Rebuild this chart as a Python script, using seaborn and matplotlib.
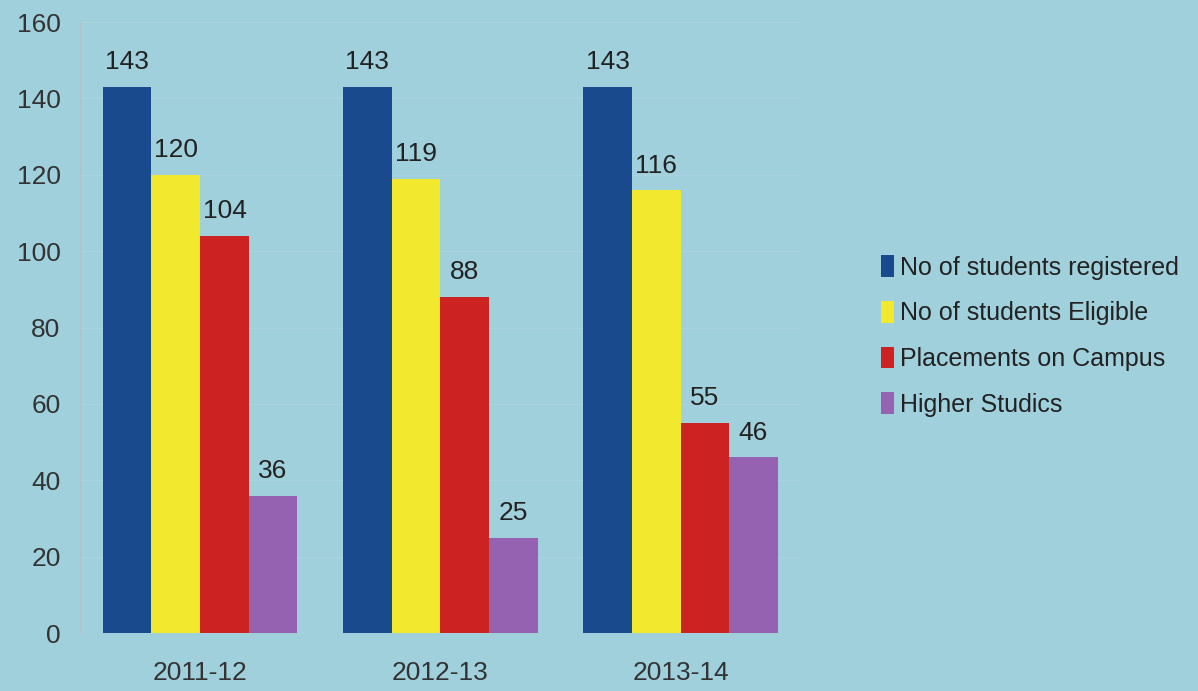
import matplotlib
matplotlib.use("Agg")
import matplotlib.pyplot as plt
import seaborn as sns
import pandas as pd

years = ["2011-12", "2012-13", "2013-14"]
series_names = ["No of students registered", "No of students Eligible",
                "Placements on Campus", "Higher Studics"]
registered = [143, 143, 143]
eligible = [120, 119, 116]
placements = [104, 88, 55]
higher = [36, 25, 46]
colors = ["#1A4A8E", "#F2E82E", "#CC2222", "#9462B0"]
yticks = [0, 20, 40, 60, 80, 100, 120, 140, 160]

rows = []
for name, vals in zip(series_names, [registered, eligible, placements, higher]):
    for y, v in zip(years, vals):
        rows.append({"Year": y, "Series": name, "Value": v})
df = pd.DataFrame(rows)

sns.set_theme(style="white")
plt.rcParams['font.family'] = ['Liberation Sans', 'DejaVu Sans']
bg = "#A0D0DC"
fs = 19

fig = plt.figure(figsize=(11.98, 6.91), dpi=100, facecolor=bg)
ax = fig.add_axes([0.0668, 0.0839, 0.6015, 0.8842])
ax.set_facecolor(bg)

sns.barplot(data=df, x="Year", y="Value", hue="Series", order=years,
            hue_order=series_names, palette=colors, width=0.81,
            saturation=1, ax=ax, linewidth=0, legend=True)

for c in ax.containers:
    ax.bar_label(c, fmt="%d", padding=9, fontsize=fs, color="#222222")

ax.set_ylim(0, 160)
ax.set_xlim(-0.5, 2.5)
ax.set_yticks(yticks)
ax.set_yticklabels([str(t) for t in yticks], fontsize=fs, color="#333333")
ax.tick_params(axis="x", labelsize=fs, colors="#333333", length=0, pad=20)
ax.tick_params(axis="y", length=0, pad=14)
ax.set_xlabel("")
ax.set_ylabel("")
ax.yaxis.grid(True, color="#a9d4dd", linewidth=1)
ax.set_axisbelow(True)
for s in ["top", "right", "bottom"]:
    ax.spines[s].set_visible(False)
ax.spines["left"].set_color("#b0c4c8")
ax.spines["left"].set_linewidth(1)

handles, labels = ax.get_legend_handles_labels()
ax.get_legend().remove()
leg = fig.legend(handles, labels, loc="center left",
                 bbox_to_anchor=(858 / 1198, 1 - 336 / 691), frameon=False,
                 fontsize=18, handlelength=0.55, handleheight=0.95,
                 handletextpad=0.25, labelspacing=0.85)
for t in leg.get_texts():
    t.set_color("#222222")

fig.savefig("out.png", dpi=100, facecolor=bg)
